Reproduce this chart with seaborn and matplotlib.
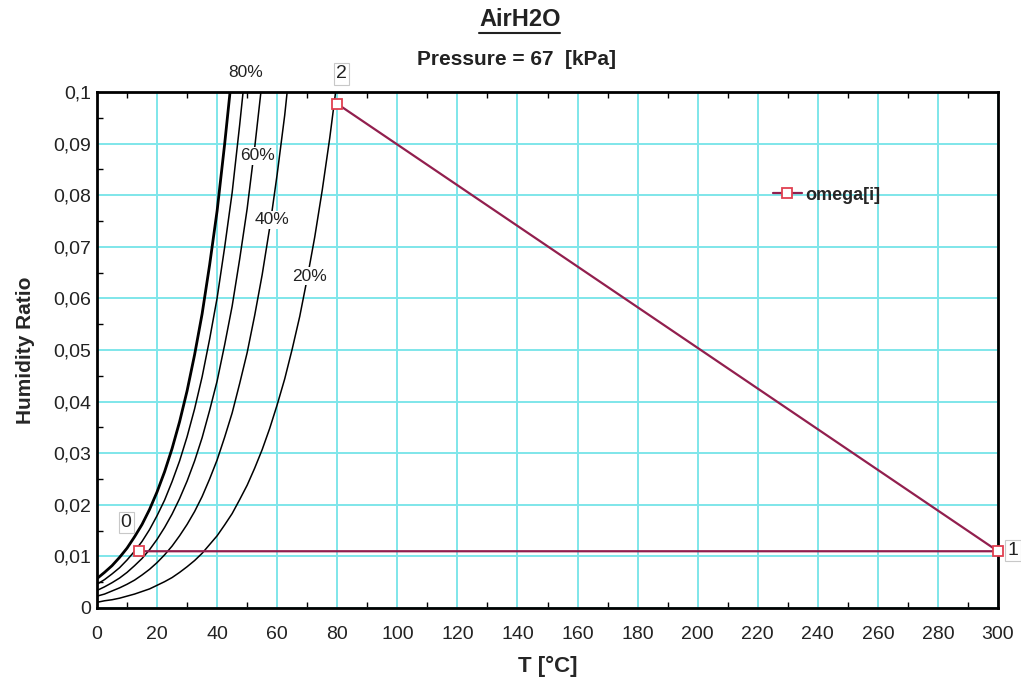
import numpy as np
import pandas as pd
import matplotlib
matplotlib.use("Agg")
import matplotlib.pyplot as plt
import seaborn as sns
from matplotlib.lines import Line2D
from matplotlib.ticker import MultipleLocator, FuncFormatter

# --- data ---
T_sat = [0, 2.5, 5, 7.5, 10, 12.5, 15, 17.5, 20, 22.5, 25, 27.5, 30, 32.5, 35, 37.5, 40, 42.5, 45]
w_100 = [0.0057, 0.0069, 0.0082, 0.0098, 0.0116, 0.0138, 0.0162, 0.0191, 0.0225, 0.0264,
         0.0309, 0.0361, 0.0421, 0.0491, 0.0570, 0.0665, 0.0770, 0.0899, 0.1039]

T_80 = [0, 2.5, 5, 7.5, 10, 12.5, 15, 17.5, 20, 22.5, 25, 27.5, 30, 32.5, 35, 37.5, 40,
        42.5, 45, 47.5, 50]
w_80 = [0.0046, 0.0055, 0.0066, 0.0078, 0.0093, 0.0110, 0.0129, 0.0152, 0.0179, 0.0209,
        0.0245, 0.0285, 0.0332, 0.0386, 0.0448, 0.0521, 0.0601, 0.0699, 0.0805, 0.0936, 0.1076]

T_60 = [0, 2.5, 5, 7.5, 10, 12.5, 15, 17.5, 20, 22.5, 25, 27.5, 30, 32.5, 35, 37.5, 40,
        42.5, 45, 47.5, 50, 52.5, 55]
w_60 = [0.0034, 0.0041, 0.0049, 0.0058, 0.0069, 0.0082, 0.0096, 0.0113, 0.0133, 0.0156,
        0.0182, 0.0212, 0.0246, 0.0285, 0.0330, 0.0383, 0.0440, 0.0510, 0.0585, 0.0676,
        0.0774, 0.0892, 0.1022]

T_40 = [0, 2.5, 5, 7.5, 10, 12.5, 15, 17.5, 20, 22.5, 25, 27.5, 30, 32.5, 35, 37.5, 40,
        42.5, 45, 47.5, 50, 52.5, 55, 57.5, 60, 62.5, 65]
w_40 = [0.0023, 0.0027, 0.0033, 0.0039, 0.0046, 0.0054, 0.0064, 0.0075, 0.0088, 0.0103,
        0.0120, 0.0140, 0.0162, 0.0187, 0.0216, 0.0250, 0.0287, 0.0331, 0.0378, 0.0435,
        0.0495, 0.0567, 0.0646, 0.0737, 0.0841, 0.0955, 0.1093]

T_20 = [0, 2.5, 5, 7.5, 10, 12.5, 15, 17.5, 20, 22.5, 25, 27.5, 30, 32.5, 35, 37.5, 40,
        42.5, 45, 47.5, 50, 52.5, 55, 57.5, 60, 62.5, 65, 67.5, 70, 72.5, 75, 77.5, 80]
w_20 = [0.0011, 0.0014, 0.0016, 0.0019, 0.0023, 0.0027, 0.0032, 0.0037, 0.0044, 0.0051,
        0.0059, 0.0069, 0.0080, 0.0092, 0.0106, 0.0123, 0.0140, 0.0161, 0.0183, 0.0210,
        0.0238, 0.0271, 0.0307, 0.0348, 0.0394, 0.0444, 0.0502, 0.0565, 0.0639, 0.0719,
        0.0810, 0.0911, 0.1025]

# process states 0 -> 1 -> 2
state_names = ["0", "1", "2"]
state_T = [14, 300, 80]
state_w = [0.0110, 0.0110, 0.0977]

rh_labels = ["80%", "60%", "40%", "20%"]
rh_label_T = [49.6, 53.3, 58.3, 70.9]
rh_label_w = [0.1037, 0.0876, 0.0752, 0.0643]

sns.set_style("white")
plt.rcParams["font.family"] = ["Liberation Sans", "DejaVu Sans"]

fig = plt.figure(figsize=(10.21, 6.81), dpi=100)
ax = fig.add_axes([97 / 1021, 73 / 681, 901 / 1021, 516 / 681])

grid_c = "#7fe6ea"
ax.xaxis.set_major_locator(MultipleLocator(20))
ax.xaxis.set_minor_locator(MultipleLocator(10))
ax.yaxis.set_major_locator(MultipleLocator(0.01))
ax.yaxis.set_minor_locator(MultipleLocator(0.005))
ax.grid(True, which="major", color=grid_c, lw=1.4)
ax.set_axisbelow(True)

# relative humidity curves
curves = [(T_sat, w_100, 2.0), (T_80, w_80, 1.1), (T_60, w_60, 1.1),
          (T_40, w_40, 1.1), (T_20, w_20, 1.1)]
for tt, ww, lw in curves:
    sns.lineplot(x=tt, y=ww, ax=ax, color="black", lw=lw, legend=False)

for lab, tx, wy in zip(rh_labels, rh_label_T, rh_label_w):
    ax.text(tx, wy, lab, fontsize=12.5, ha="center", va="center", color="#222222",
            bbox=dict(facecolor="white", edgecolor="none", pad=1.0), clip_on=False, zorder=5)

# process line
proc = pd.DataFrame({"T": state_T, "w": state_w})
sns.lineplot(data=proc, x="T", y="w", ax=ax, sort=False, color="#921f4e", lw=1.6,
             marker="s", markersize=7, markerfacecolor="white", markeredgecolor="#e04050",
             markeredgewidth=1.3, label="omega[i]", zorder=6, clip_on=False)

label_pos = {"0": (9.7, 0.0166), "1": (305, 0.0111), "2": (81.3, 0.1035)}
for name in state_names:
    px, py = label_pos[name]
    ax.text(px, py, name, fontsize=14, ha="center", va="center", color="#222222",
            bbox=dict(facecolor="white", edgecolor="#c8c8c8", pad=1.5, lw=0.8),
            clip_on=False, zorder=7)

leg = ax.legend(loc="center", bbox_to_anchor=(0.81, 0.80), frameon=False,
                handlelength=1.6, handletextpad=0.2,
                prop={"weight": "bold", "size": 13})

ax.set_xlim(0, 300)
ax.set_ylim(0, 0.1)
ax.xaxis.set_major_formatter(FuncFormatter(lambda v, p: f"{v:g}"))
ax.yaxis.set_major_formatter(FuncFormatter(lambda v, p: f"{v:.2f}".rstrip("0").rstrip(".").replace(".", ",") if v != 0 else "0"))
ax.tick_params(which="both", direction="in", top=True, right=False, bottom=True, left=True,
               labelsize=14, colors="black", labelcolor="#222222")
ax.tick_params(which="major", length=0)
ax.tick_params(axis="x", which="major", pad=13)
ax.tick_params(axis="y", which="major", pad=4)
ax.tick_params(which="minor", length=4, width=1)
for side in ["left", "bottom", "top", "right"]:
    ax.spines[side].set_visible(True)
    ax.spines[side].set_color("black")
    ax.spines[side].set_linewidth(2.0)

ax.set_xlabel("T [°C]", fontsize=16, fontweight="bold", labelpad=9)
ax.set_ylabel("Humidity Ratio", fontsize=15, fontweight="bold", labelpad=13)

t1 = fig.text(0.509, 0.972, "AirH2O", fontsize=17, fontweight="bold", ha="center", va="center",
              color="#222222")
fig.text(0.506, 0.913, "Pressure = 67  [kPa]", fontsize=15, fontweight="bold", ha="center",
         va="center", color="#222222")

fig.canvas.draw()
bb = t1.get_window_extent().transformed(fig.transFigure.inverted())
fig.add_artist(Line2D([bb.x0, bb.x1], [bb.y0 - 0.004, bb.y0 - 0.004], color="#222222", lw=1.5,
                      transform=fig.transFigure))

fig.savefig("out.png", dpi=100)
plt.close(fig)
